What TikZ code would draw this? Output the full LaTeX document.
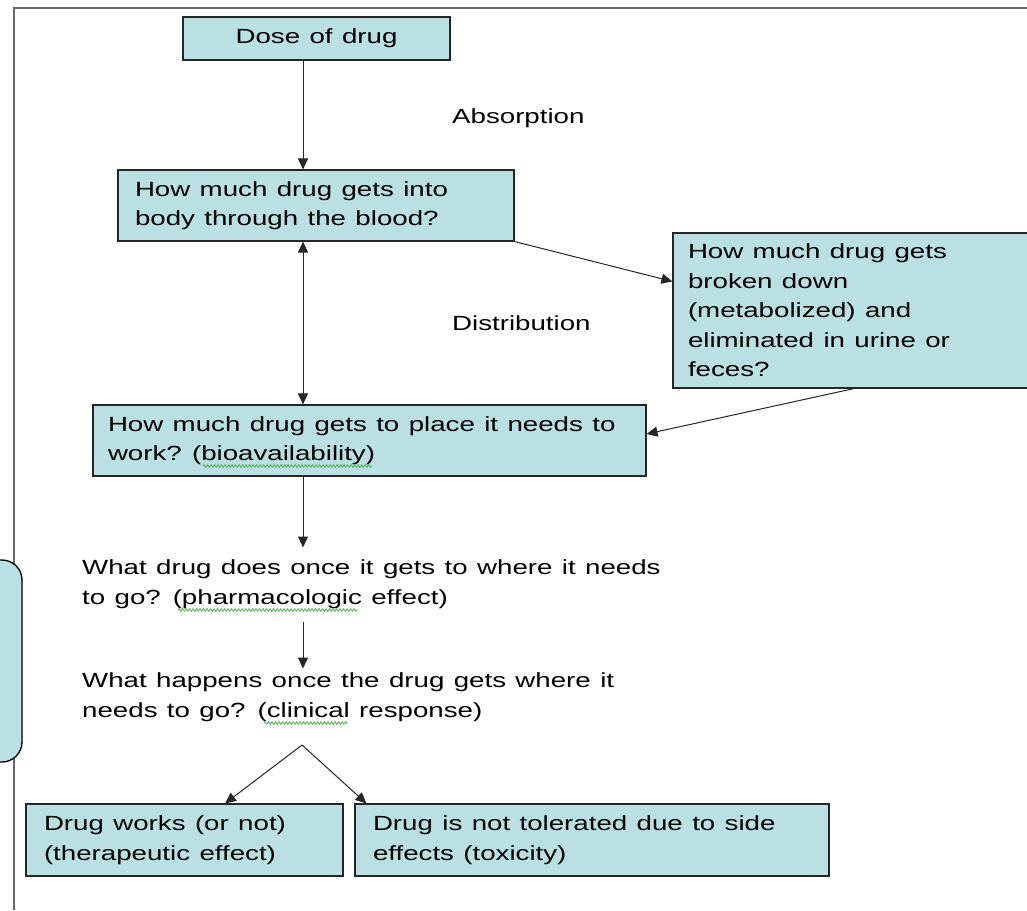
\documentclass[tikz,border=0pt]{standalone}
\usepackage{fontspec}
\setmainfont{Liberation Sans}[FakeStretch=1.35]
\usetikzlibrary{arrows.meta,calc,decorations.pathmorphing}
\definecolor{boxfill}{RGB}{186,224,228}
\definecolor{framegray}{RGB}{105,105,105}
\definecolor{squig}{RGB}{80,175,80}
\newcommand{\diagfont}{\fontsize{20.5}{29.5}\selectfont}
\newcommand{\widespaces}{\spaceskip=9.4pt plus 2pt minus 1pt\relax}
\begin{document}
\begin{tikzpicture}[x=1pt,y=-1pt,
  every node/.style={font=\diagfont, text=black, execute at begin node=\widespaces},
  box/.style={draw=black!85, line width=1.1pt, fill=boxfill, inner ysep=0pt, align=left},
  arr/.style={draw=black!85, line width=1pt, -{Triangle[length=11pt,width=10pt]}},
  lbl/.style={inner sep=0pt, anchor=west, align=left},
  squiggle/.style={draw=squig, line width=0.8pt, decorate, decoration={snake, amplitude=1.3pt, segment length=3.5pt}}]

\useasboundingbox (0,0) rectangle (1027,910);
\clip (0,0) rectangle (1027,910);
\fill[white] (0,0) rectangle (1027,910);

% frame
\draw[framegray, line width=2pt] (14,910) -- (14,8) -- (1030,8);

% partly hidden rounded box at the left edge
\draw[fill=boxfill, line width=1.3pt, rounded corners=20pt] (-40,560) rectangle (22,762);

% boxes
\node[box, minimum width=267pt, minimum height=43pt, align=center] (dose) at (316.5,38.5) {Dose of drug};
\node[box, minimum height=71pt, text width=362pt, inner xsep=17pt] (b2) at (316,205.5)
  {\mbox{How much drug gets into}\\\mbox{body through the blood?}};
\node[box, minimum height=155pt, text width=332pt, inner xsep=15pt] (b3) at (854,310.5)
  {How much drug gets\\broken down\\(metabolized) and\\\mbox{eliminated in urine or}\\feces?};
\node[box, minimum height=71pt, text width=523pt, inner xsep=15pt] (b4) at (369.5,440.5)
  {\mbox{How much drug gets to place it needs to}\\\mbox{work? (bioavailability)}};
\node[box, minimum height=72pt, text width=281pt, inner xsep=18pt] (b5) at (184.5,840)
  {\mbox{Drug works (or not)}\\\mbox{(therapeutic effect)}};
\node[box, minimum height=72pt, text width=438pt, inner xsep=18pt] (b6) at (592,840)
  {\mbox{Drug is not tolerated due to side}\\effects (toxicity)};

% free texts
\node[lbl] (t1) at (82,584) {What drug does once it gets to where it needs\\to go? (pharmacologic effect)};
\node[lbl] (t2) at (82,697) {What happens once the drug gets where it\\needs to go? (clinical response)};
\node[lbl] (abs) at (452,118) {Absorption};
\node[lbl] (dist) at (452,323) {Distribution};

% helper coordinates
\coordinate (vx) at (303,0);
\coordinate (apex) at (302,745);

% connectors
\draw[arr] (dose.south -| vx) -- (b2.north -| vx);
\draw[arr, {Triangle[length=11pt,width=10pt]}-{Triangle[length=11pt,width=10pt]}] (b2.south -| vx) -- (b4.north -| vx);
\draw[arr] (b2.south east) -- ($(b3.north west)+(0,49)$);
\draw[arr] (b3.south) -- ($(b4.east)+(0,-6.5)$);
\draw[arr] (b4.south -| vx) -- ($(t1.north -| vx)+(0,-12)$);
\draw[arr] ($(t1.south -| vx)+(0,13)$) -- ($(t2.north -| vx)+(0,-4)$);
\draw[arr] (apex) -- ($(b5.north)+(40.5,0)$);
\draw[arr] (apex) -- ($(b6.north west)+(12,0)$);

% spell-check squiggles
\draw[squiggle] (203,466) -- (372,466);
\draw[squiggle] (178,610) -- (358,610);
\draw[squiggle] (264,723) -- (348,723);
\end{tikzpicture}
\end{document}
